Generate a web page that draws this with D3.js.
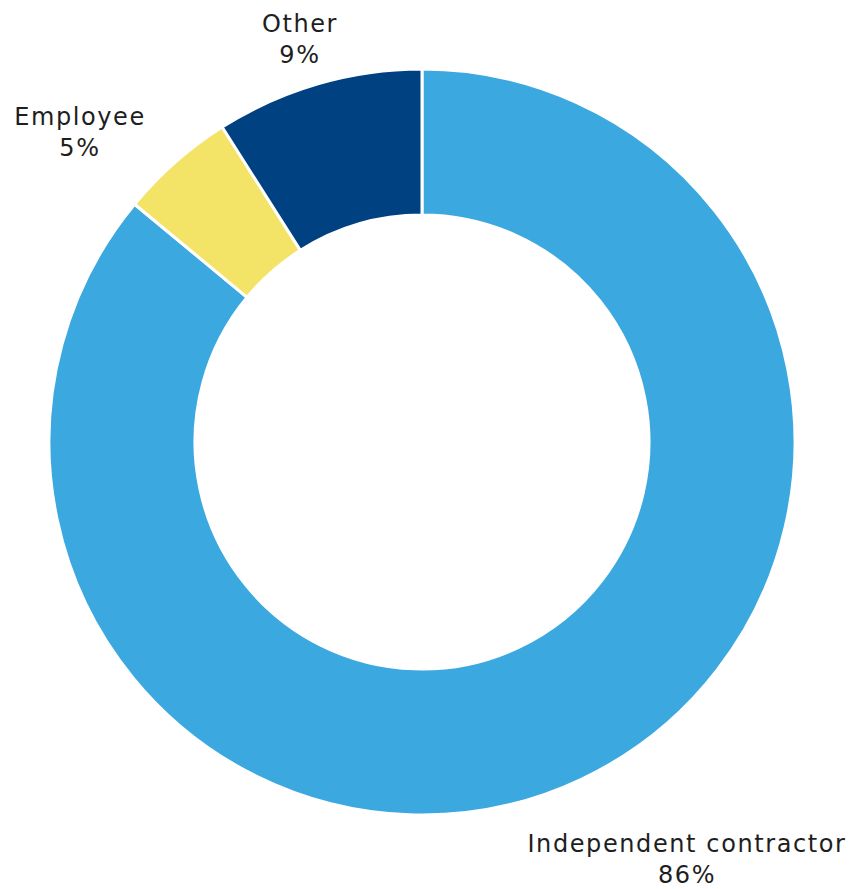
<!DOCTYPE html>
<html>
<head>
<meta charset="utf-8">
<script src="https://cdn.jsdelivr.net/npm/d3@7/dist/d3.min.js"></script>
<style>
  html, body { margin: 0; padding: 0; background: #ffffff; }
  svg { display: block; }
</style>
</head>
<body>
<div id="chart"></div>
<script>
// Work arrangement shares (percent)
const categories = ["Independent contractor", "Employee", "Other"];
const values = [86, 5, 9];
const colors = ["#3ba8df", "#f3e467", "#004281"];
// Label anchor positions (x, baseline of the name line) for each slice
const labelPos = [[687, 852], [80, 125], [300, 32]];

const width = 853, height = 889;
const cx = 422, cy = 442;
const outerR = 373, innerR = 227;

const svg = d3.select("#chart").append("svg")
  .attr("width", width)
  .attr("height", height);

const pie = d3.pie().sort(null).value(d => d.value);
const arc = d3.arc().innerRadius(innerR).outerRadius(outerR);

const data = categories.map((c, i) => ({ name: c, value: values[i], color: colors[i] }));

const g = svg.append("g").attr("transform", `translate(${cx},${cy})`);
g.selectAll("path")
  .data(pie(data))
  .join("path")
  .attr("d", arc)
  .attr("fill", d => d.data.color)
  .attr("stroke", "#ffffff")
  .attr("stroke-width", 3)
  .attr("stroke-linejoin", "miter");

const labels = svg.append("g")
  .attr("font-family", "'DejaVu Sans', sans-serif")
  .attr("font-size", 24)
  .attr("letter-spacing", 1.6)
  .attr("fill", "#1e1e1e")
  .attr("text-anchor", "middle");

data.forEach((d, i) => {
  const [x, y] = labelPos[i];
  labels.append("text").attr("x", x).attr("y", y).text(d.name);
  labels.append("text").attr("x", x).attr("y", y + 31).text(d.value + "%");
});
</script>
</body>
</html>
